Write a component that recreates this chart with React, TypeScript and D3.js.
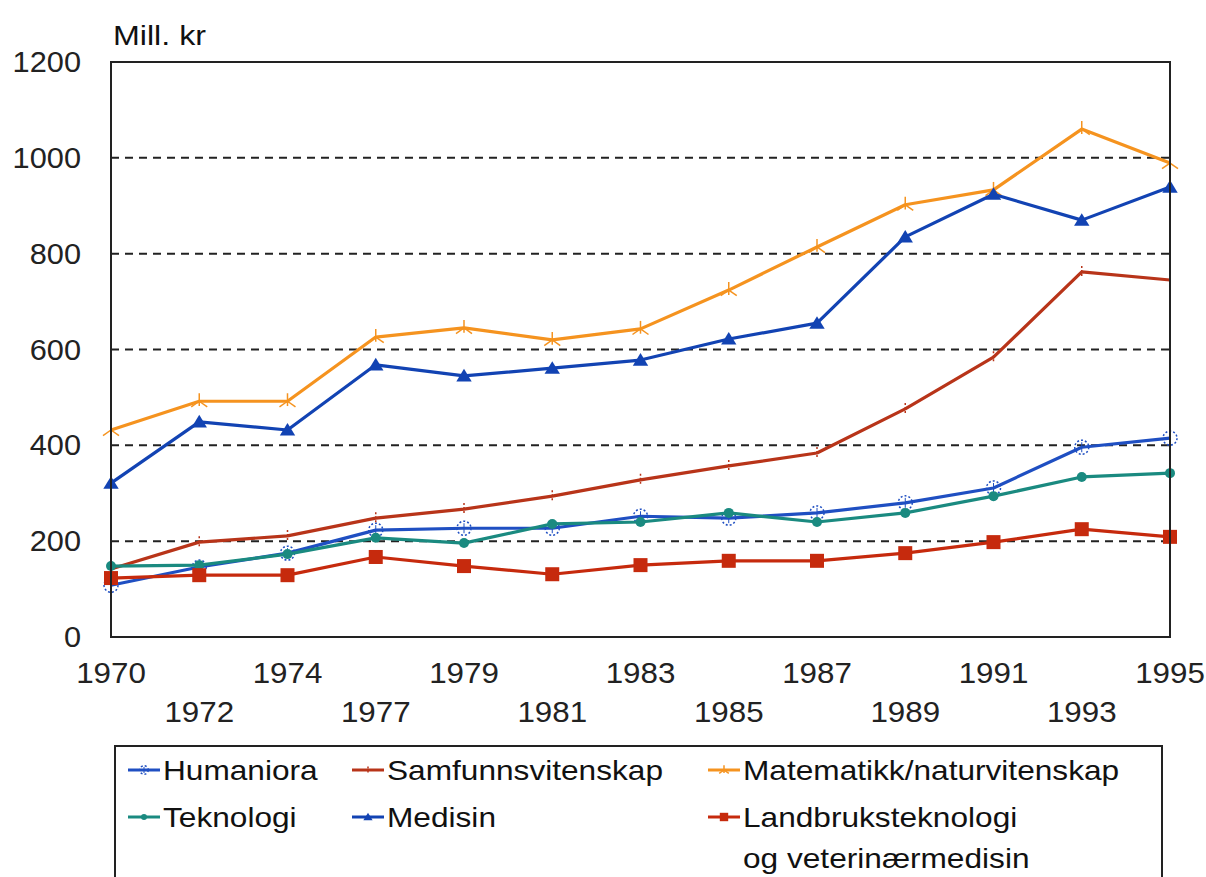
import * as d3 from "d3";

const years = ["1970", "1972", "1974", "1977", "1979", "1981", "1983", "1985", "1987", "1989", "1991", "1993", "1995"];
const yTicks = [0, 200, 400, 600, 800, 1000, 1200];

const humaniora = [108, 146, 175, 223, 227, 227, 252, 248, 259, 280, 311, 396, 415];
const samfunn = [142, 198, 211, 248, 267, 294, 328, 357, 384, 476, 584, 762, 745];
const matematikk = [432, 492, 492, 626, 645, 620, 643, 724, 814, 902, 933, 1060, 989];
const teknologi = [148, 150, 173, 207, 196, 236, 240, 259, 240, 259, 294, 334, 342];
const medisin = [321, 449, 432, 568, 545, 561, 578, 622, 655, 835, 924, 870, 939];
const landbruk = [123, 129, 129, 167, 148, 131, 150, 159, 159, 175, 198, 225, 209];

const series = [
  { name: "Humaniora", values: humaniora, color: "#1f4fc2", marker: "dotcircle" },
  { name: "Samfunnsvitenskap", values: samfunn, color: "#b83419", marker: "smallplus" },
  { name: "Matematikk/naturvitenskap", values: matematikk, color: "#f5931f", marker: "star" },
  { name: "Teknologi", values: teknologi, color: "#1a8a80", marker: "circle" },
  { name: "Medisin", values: medisin, color: "#1243b3", marker: "triangle" },
  { name: "Landbruksteknologi|og veterinærmedisin", values: landbruk, color: "#c62a0d", marker: "square" },
];

const font = "'Liberation Sans', Arial, sans-serif";

const Marker = ({ type, x, y, color, legend }: any) => {
  const k = legend ? 0.6 : 1;
  if (type === "triangle") {
    const s = 7 * k;
    return <path d={`M${x},${y - s}L${x + s * 1.1},${y + s * 0.8}L${x - s * 1.1},${y + s * 0.8}Z`} fill={color} />;
  }
  if (type === "square") {
    const s = 7 * k;
    return <rect x={x - s} y={y - s} width={s * 2} height={s * 2} fill={color} />;
  }
  if (type === "circle") {
    return <circle cx={x} cy={y} r={5 * k} fill={color} />;
  }
  if (type === "dotcircle") {
    return (
      <g>
        <circle cx={x} cy={y} r={7 * k} fill="none" stroke={color} strokeWidth={1.5} strokeDasharray="2,2" />
        <line x1={x} x2={x} y1={y - 5 * k} y2={y + 5 * k} stroke={color} strokeWidth={1} />
      </g>
    );
  }
  if (type === "smallplus") {
    const s = 6 * k;
    return <line x1={x} x2={x} y1={y - s} y2={y + s} stroke={color} strokeWidth={1.5} strokeDasharray="2,2" />;
  }
  // star
  const s = 8 * k;
  return (
    <g stroke={color} strokeWidth={1.5}>
      <line x1={x} x2={x} y1={y - s} y2={y + s * 0.6} />
      <line x1={x - s} x2={x} y1={y + s * 0.7} y2={y} />
      <line x1={x + s} x2={x} y1={y + s * 0.7} y2={y} />
    </g>
  );
};

export default function App() {
  const width = 1206;
  const height = 877;
  const left = 111;
  const right = 1170;
  const top = 62;
  const bottom = 637;

  const x = d3.scalePoint<string>().domain(years).range([left, right]);
  const y = d3.scaleLinear().domain([0, 1200]).range([bottom, top]);
  const line = d3
    .line<number>()
    .x((_, i) => x(years[i])!)
    .y((d) => y(d));

  const legendCols = [128, 352, 708];
  const legendRows = [770, 817];

  return (
    <svg width={width} height={height} style={{ position: "absolute", left: 0, top: 0, background: "#fff" }} fontFamily={font}>
      <text transform="translate(113,45) scale(1.15,1)" fontSize={28} fill="#111">Mill. kr</text>

      {/* grid lines */}
      {yTicks.filter((t) => t > 0 && t < 1200).map((t) => (
        <line key={t} x1={left} x2={right} y1={y(t)} y2={y(t)} stroke="#222" strokeWidth={2} strokeDasharray="8,6" />
      ))}

      {/* y labels */}
      {yTicks.map((t) => (
        <text key={t} transform={`translate(81,${y(t) + 10}) scale(1.06,1)`} textAnchor="end" fontSize={29} fill="#222">{t}</text>
      ))}

      {/* x labels */}
      {years.map((yr, i) => (
        <text key={yr} transform={`translate(${x(yr)},${i % 2 === 0 ? 683 : 722}) scale(1.08,1)`} textAnchor="middle" fontSize={29} fill="#222">{yr}</text>
      ))}

      {/* lines */}
      {series.map((s) => (
        <g key={s.name}>
          <path d={line(s.values)!} fill="none" stroke={s.color} strokeWidth={3.2} strokeLinejoin="round" />
          {s.values.map((v, i) => (
            <Marker key={i} type={s.marker} x={x(years[i])} y={y(v)} color={s.color} />
          ))}
        </g>
      ))}

      {/* frame */}
      <rect x={left} y={top} width={right - left} height={bottom - top} fill="none" stroke="#222" strokeWidth={2} />

      {/* legend */}
      <rect x={115} y={746} width={1047} height={160} fill="none" stroke="#222" strokeWidth={2} />
      {series.map((s, i) => {
        const col = i % 3;
        const row = Math.floor(i / 3);
        const lx = legendCols[col];
        const ly = legendRows[row];
        const parts = s.name.split("|");
        return (
          <g key={s.name}>
            <line x1={lx} x2={lx + 32} y1={ly} y2={ly} stroke={s.color} strokeWidth={3} />
            <Marker type={s.marker} x={lx + 16} y={ly} color={s.color} legend />
            {parts.map((p, j) => (
              <text key={j} transform={`translate(${lx + 35},${ly + 10 + j * 41}) scale(1.13,1)`} fontSize={28} fill="#111">{p}</text>
            ))}
          </g>
        );
      })}
    </svg>
  );
}
